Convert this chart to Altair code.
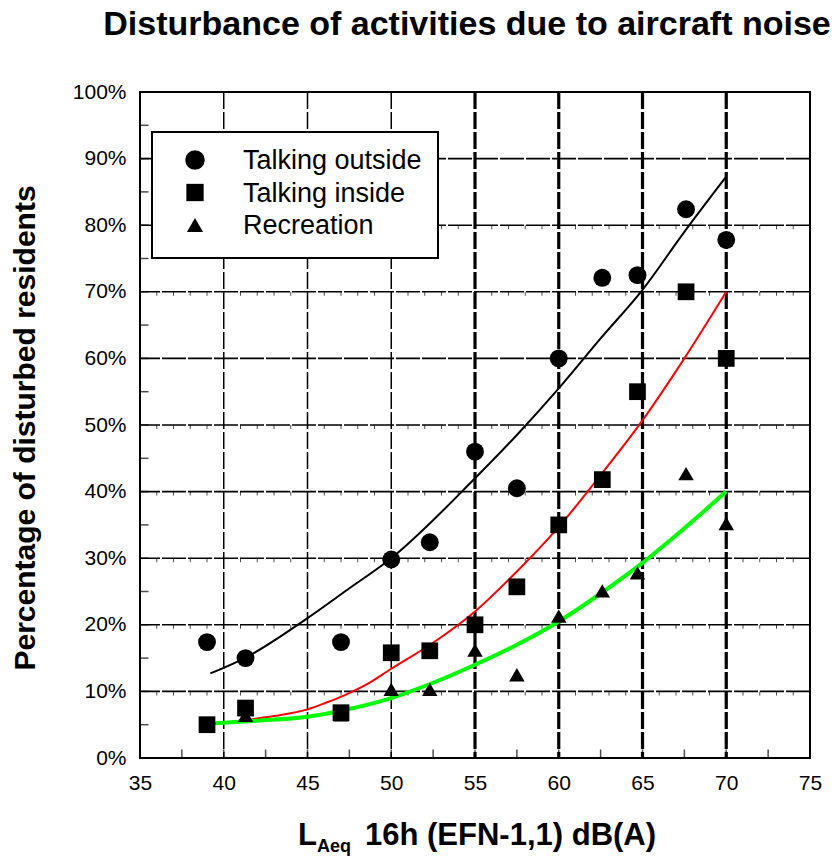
import altair as alt
import pandas as pd

# ---------------- data ----------------
noise_db = [39, 41.3, 47, 50, 52.3, 55, 57.5, 60, 62.6, 64.7, 67.6, 70]
talking_outside = [17.4, 15.0, 17.4, 29.8, 32.4, 46.0, 40.5, 60.0, 72.1, 72.5, 82.4, 77.8]
talking_inside = [5.0, 7.5, 6.8, 15.8, 16.1, 20.0, 25.7, 35.0, 41.8, 55.0, 70.0, 60.0]
recreation = [5.0, 6.4, 6.5, 10.3, 10.3, 16.2, 12.5, 21.3, 25.1, 27.8, 42.7, 35.2]

fit_out_x = [39.2, 41.4, 45, 47.4, 50, 55, 57.5, 60, 62.5, 65, 67.5, 70]
fit_out_y = [12.7, 15.2, 21.0, 25.3, 30.0, 42.0, 48.5, 55.5, 63.0, 70.3, 79.0, 87.3]
fit_in_x = [39, 41, 43, 45, 46, 47.2, 48.5, 50, 52.5, 55, 57.5, 60, 62.5, 65, 67.5, 70]
fit_in_y = [5.0, 5.6, 6.3, 7.3, 8.2, 9.4, 11.0, 13.4, 17.3, 22.0, 28.0, 34.7, 42.5, 50.7, 60.0, 70.0]
fit_rec_x = [39.5, 42, 45, 47.2, 50, 52.5, 55, 57.5, 60, 62.5, 65, 67.5, 70]
fit_rec_y = [5.2, 5.6, 6.2, 7.2, 9.0, 11.3, 14.0, 17.0, 20.5, 24.7, 29.3, 34.5, 40.0]

series_names = ["Talking outside", "Talking inside", "Recreation"]
x_ticks = [35, 40, 45, 50, 55, 60, 65, 70, 75]
y_ticks = [0, 10, 20, 30, 40, 50, 60, 70, 80, 90, 100]
grid_x_thin = [40, 45, 50]
grid_x_thick = [55, 60, 65, 70]
grid_y = [10, 20, 30, 40, 50, 60, 70, 80, 90]
grid_y_with_marks = [10, 20, 30, 40, 50, 70, 80]
minor_x = [35 + 2.5 * i for i in range(1, 16)]
minor_y = [5 * i for i in range(1, 20)]
dB_marks = [x for x in range(36, 75) if x % 5 != 0]

title_text = "Disturbance of activities due to aircraft noise"
y_title = "Percentage of disturbed residents"

# ---------------- layout ----------------
W, H = 670, 666
FONT = "Liberation Sans"
xs = alt.Scale(domain=[35, 75], nice=False, zero=False)
ys = alt.Scale(domain=[0, 100], nice=False)

pts = pd.DataFrame({"x": noise_db, "out": talking_outside, "in": talking_inside, "rec": recreation})

x_axis = alt.Axis(values=x_ticks, grid=False, ticks=False, domain=False, title=None,
                  labelFontSize=21, labelFont=FONT, labelColor="black", labelPadding=14,
                  labelFlush=False)
y_axis = alt.Axis(values=y_ticks, grid=False, ticks=False, domain=False, title=None,
                  labelFontSize=21, labelFont=FONT, labelColor="black", labelPadding=14,
                  labelExpr="datum.value + '%'", labelFlush=False)

def vgrid(vals, width):
    return alt.Chart(pd.DataFrame({"x": vals})).mark_rule(
        color="black", strokeWidth=width, strokeDash=[17, 3]
    ).encode(x=alt.X("x:Q", scale=xs, axis=x_axis))

hgrid = alt.Chart(pd.DataFrame({"y": grid_y})).mark_rule(
    color="black", strokeWidth=1.6, strokeDash=[24, 2]
).encode(y=alt.Y("y:Q", scale=ys, axis=y_axis))

mark_rows = pd.DataFrame([(x, y) for y in grid_y_with_marks for x in dB_marks], columns=["x", "y"])
grid_marks = alt.Chart(mark_rows).mark_tick(
    orient="vertical", size=4, thickness=1, color="black", yOffset=2
).encode(x=alt.X("x:Q", scale=xs), y=alt.Y("y:Q", scale=ys))

bottom_ticks = alt.Chart(pd.DataFrame({"x": minor_x})).mark_tick(
    orient="vertical", size=9, thickness=1.5, color="black"
).encode(x=alt.X("x:Q", scale=xs), y=alt.value(H - 4))
left_ticks = alt.Chart(pd.DataFrame({"y": minor_y})).mark_tick(
    orient="horizontal", size=9, thickness=1.5, color="black"
).encode(y=alt.Y("y:Q", scale=ys), x=alt.value(4))

def curve(xv, yv, color, width):
    return alt.Chart(pd.DataFrame({"x": xv, "y": yv})).mark_line(
        color=color, strokeWidth=width, interpolate="monotone"
    ).encode(x=alt.X("x:Q", scale=xs), y=alt.Y("y:Q", scale=ys))

def points(field, shape, size):
    return alt.Chart(pts).mark_point(
        shape=shape, filled=True, color="black", opacity=1, size=size
    ).encode(x=alt.X("x:Q", scale=xs), y=alt.Y(f"{field}:Q", scale=ys))

legend_box = alt.Chart(pd.DataFrame({"a": [0]})).mark_rect(
    fill="white", stroke="black", strokeWidth=2
).encode(x=alt.value(12), x2=alt.value(298), y=alt.value(40), y2=alt.value(166))

legend_layers = []
for i, (name, shape, size) in enumerate(zip(series_names, ["circle", "square", "triangle-up"], [380, 300, 260])):
    yy = 68 + i * 32.5
    d = pd.DataFrame({"label": [name]})
    legend_layers.append(alt.Chart(d).mark_point(shape=shape, filled=True, color="black", opacity=1, size=size)
                         .encode(x=alt.value(55), y=alt.value(yy)))
    legend_layers.append(alt.Chart(d).mark_text(align="left", baseline="middle", fontSize=27, font=FONT, color="black")
                         .encode(x=alt.value(103), y=alt.value(yy + 1), text="label:N"))

def text_at(txt, x, y, size, bold=True, angle=None, align="center", baseline="middle"):
    kw = dict(align=align, baseline=baseline, fontSize=size, font=FONT, color="black",
              fontWeight="bold" if bold else "normal")
    if angle is not None:
        kw["angle"] = angle
    return alt.Chart(pd.DataFrame({"t": [txt]})).mark_text(**kw).encode(
        x=alt.value(x), y=alt.value(y), text="t:N")

title = text_at(title_text, 327, -57, 34, align="center", baseline="alphabetic")
ytitle = text_at(y_title, -114, 428 - 92, 30, angle=270)
xt_L = text_at("L", 158, 753, 31, align="left", baseline="alphabetic")
xt_sub = text_at("Aeq", 177, 760, 18, align="left", baseline="alphabetic")
xt_rest = text_at("16h (EFN-1,1) dB(A)", 225, 753, 31, align="left", baseline="alphabetic")

chart = alt.layer(
    hgrid, vgrid(grid_x_thin, 1.5), vgrid(grid_x_thick, 3.2), grid_marks,
    bottom_ticks, left_ticks,
    curve(fit_out_x, fit_out_y, "black", 2),
    curve(fit_in_x, fit_in_y, "#ff0000", 2),
    curve(fit_rec_x, fit_rec_y, "#00ff00", 4),
    points("out", "circle", 320), points("in", "square", 280), points("rec", "triangle-up", 240),
    legend_box, *legend_layers,
    title, ytitle, xt_L, xt_sub, xt_rest,
).properties(
    width=W, height=H,
    autosize=alt.AutoSizeParams(type="none"),
    padding={"left": 140, "top": 92, "right": 30, "bottom": 101},
    background="white",
).configure_view(stroke="black", strokeWidth=2)

chart.save("out.html", embed_options={"renderer": "svg", "actions": False})
